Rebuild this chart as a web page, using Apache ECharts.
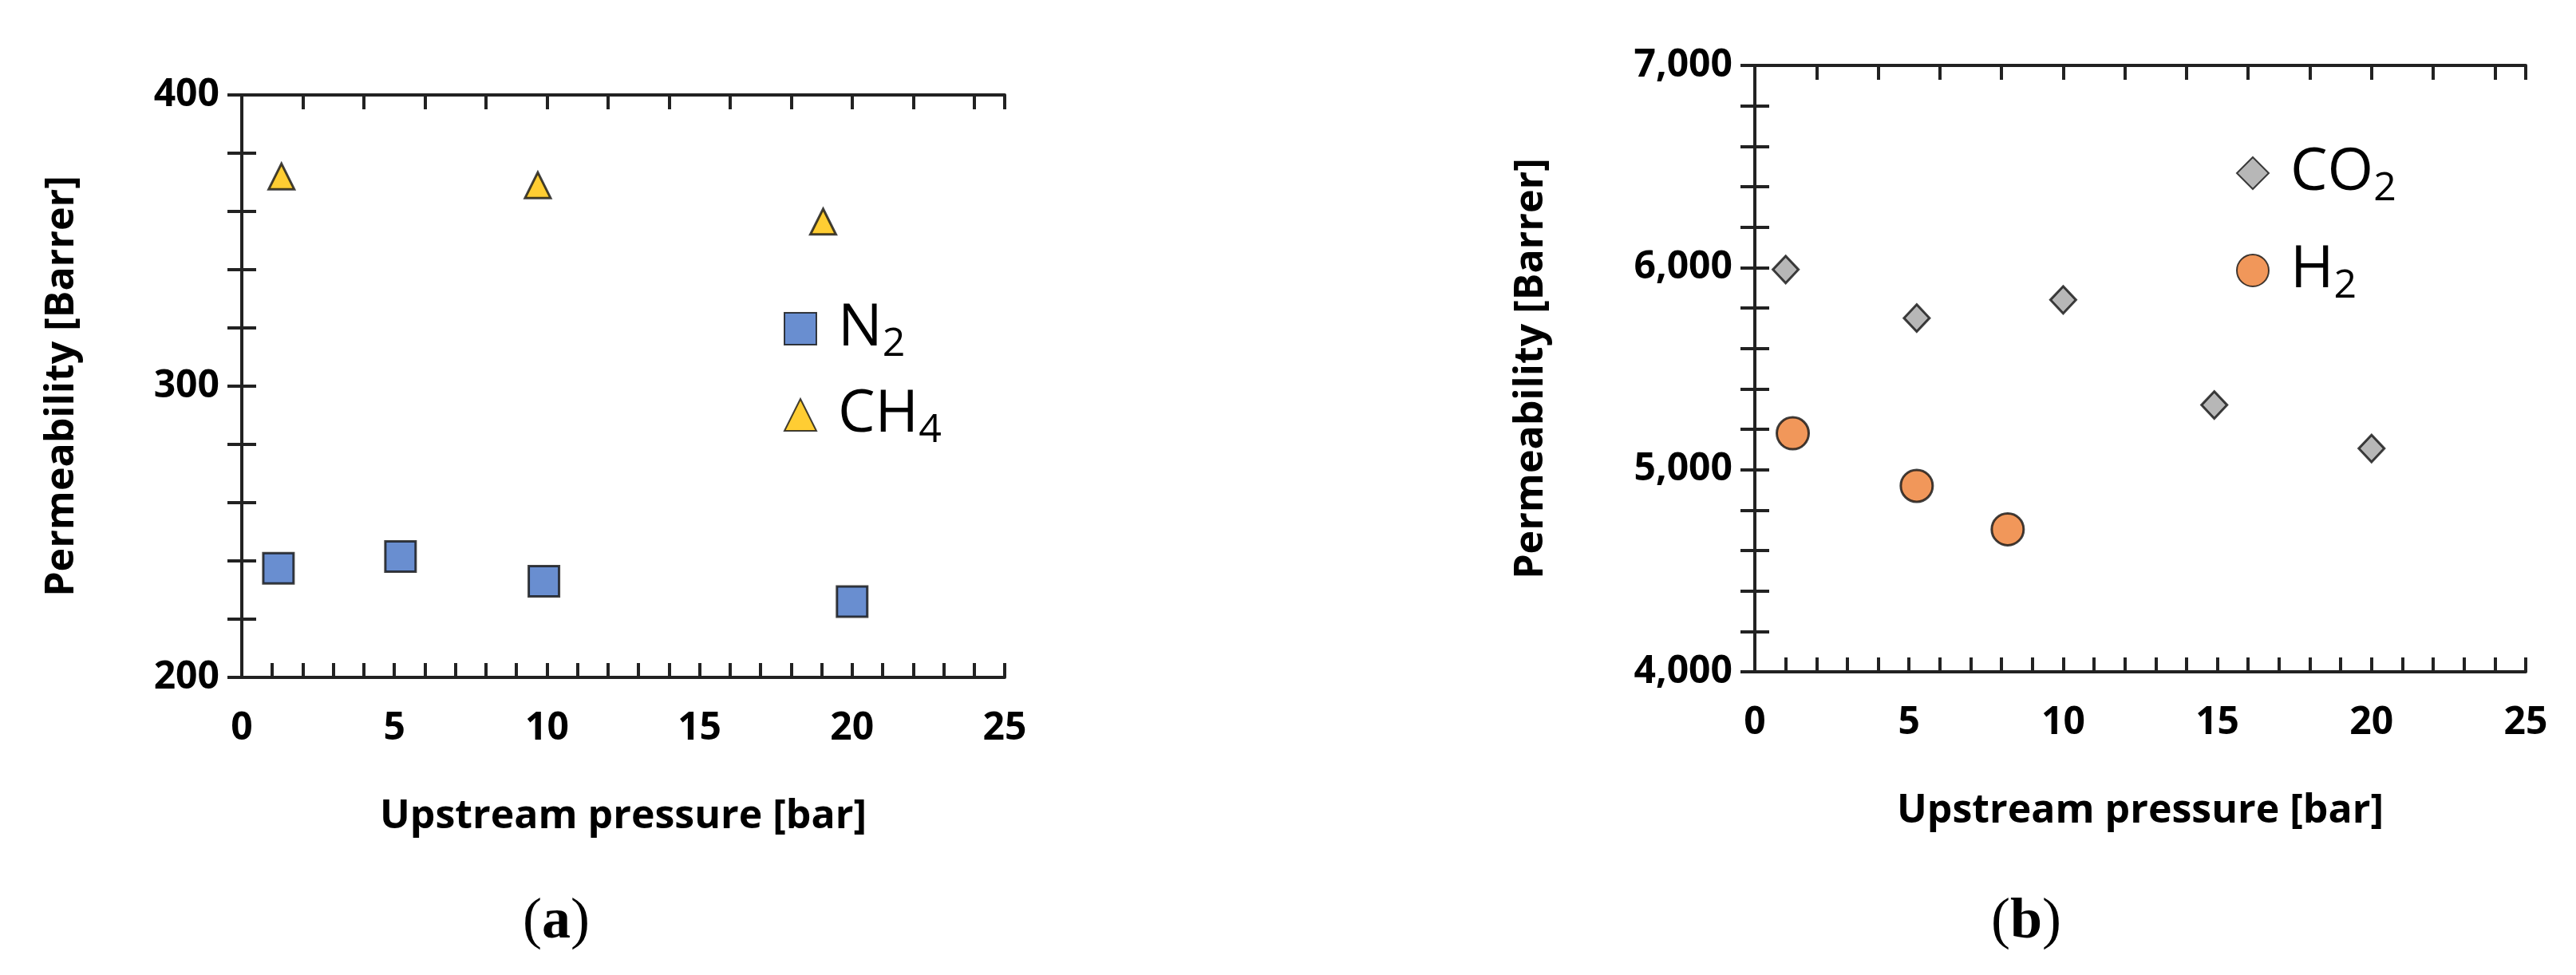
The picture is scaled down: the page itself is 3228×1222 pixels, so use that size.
<!DOCTYPE html>
<html><head><meta charset="utf-8">
<script src="https://cdn.jsdelivr.net/npm/echarts@6/dist/echarts.min.js"></script>
<style>html,body{margin:0;padding:0;background:#fff}#c{width:3228px;height:1222px}</style>
</head><body><div id="c"></div>
<script>
const n2X = [1.2, 5.2, 9.9, 20.0];
const n2Y = [237.5, 241.5, 233, 226];
const ch4X = [1.3, 9.7, 19.05];
const ch4Y = [372, 369, 356.5];
const co2X = [1.0, 5.25, 10.0, 14.9, 20.0];
const co2Y = [5990, 5750, 5840, 5320, 5105];
const h2X = [1.23, 5.25, 8.2];
const h2Y = [5180, 4920, 4705];
const xTicks = [0, 5, 10, 15, 20, 25];

const chart = echarts.init(document.getElementById('c'));
const F = 'Open Sans';
const lbl = {color:'#000', fontFamily:F, fontWeight:'bold', fontSize:48};
function zip(a,b){return a.map((v,i)=>[v,b[i]]);}
const axLine = {show:true, lineStyle:{color:'#222', width:4}};
const tk = {show:true, inside:true, length:18, lineStyle:{color:'#222', width:4}};
function xAxes(gi){
  return [
    {gridIndex:gi, type:'value', min:0, max:25, interval:1, position:'bottom',
     axisLine:axLine, axisTick:tk, splitLine:{show:false},
     axisLabel:Object.assign({margin:40, showMinLabel:true, showMaxLabel:true, formatter:v=>xTicks.includes(v)?String(v):''}, lbl),
     name:'Upstream pressure [bar]', nameLocation:'middle', nameGap:150,
     nameTextStyle:{color:'#000', fontFamily:F, fontWeight:'bold', fontSize:50}},
    {gridIndex:gi, type:'value', min:0, max:25, interval:2, position:'top',
     axisLine:axLine, axisTick:tk, axisLabel:{show:false}, splitLine:{show:false}}
  ];
}
function yAxes(gi,min,max,step,major,fmt){
  return [
    {gridIndex:gi, type:'value', min:min, max:max, interval:step, position:'left',
     axisLine:axLine, axisTick:tk, splitLine:{show:false},
     axisLabel:Object.assign({margin:28, formatter:v=>(Math.round(v-min)%major===0)?fmt(v):''}, lbl),
     name:'Permeability [Barrer]', nameLocation:'middle', nameGap:gi===0?200:255,
     nameTextStyle:{color:'#000', fontFamily:F, fontWeight:'bold', fontSize:50}},
    {gridIndex:gi, type:'value', min:min, max:max, interval:step, position:'right',
     axisLine:axLine, axisTick:tk, axisLabel:{show:false}, splitLine:{show:false}}
  ];
}
const bd = {borderColor:'#111', borderWidth:3};
const rich = {n:{fontSize:74, fontFamily:F, color:'#000', padding:[0,0,0,22]}, s:{fontSize:50, fontFamily:F, color:'#000', padding:[40,0,0,0]}};
function leg(name, txt, left, top){
  return {data:[name], orient:'vertical', left:left, top:top, itemWidth:40, itemHeight:40, itemGap:10,
    formatter:()=>txt, textStyle:{rich:rich}};
}
chart.setOption({
  animation:false,
  grid:[{left:303, top:119, width:956, height:730},{left:2199, top:82, width:966, height:760}],
  xAxis:[...xAxes(0), ...xAxes(1)],
  yAxis:[...yAxes(0,200,400,20,100,v=>String(v)), ...yAxes(1,4000,7000,200,1000,v=>v.toLocaleString('en-US'))],
  legend:[leg('N2','{n|N}{s|2}',977,370), leg('CH4','{n|CH}{s|4}',977,478),
          leg('CO2','{n|CO}{s|2}',2797,175), leg('H2','{n|H}{s|2}',2797,297)],
  series:[
    {name:'N2', type:'scatter', xAxisIndex:0, yAxisIndex:0, symbol:'rect', symbolSize:38, data:zip(n2X,n2Y), itemStyle:Object.assign({color:'#4472C4'},bd)},
    {name:'CH4', type:'scatter', xAxisIndex:0, yAxisIndex:0, symbol:'triangle', symbolSize:32, data:zip(ch4X,ch4Y), itemStyle:Object.assign({color:'#FFC000'},bd)},
    {name:'CO2', type:'scatter', xAxisIndex:2, yAxisIndex:2, symbol:'diamond', symbolSize:[32,34], data:zip(co2X,co2Y), itemStyle:Object.assign({color:'#A5A5A5'},bd)},
    {name:'H2', type:'scatter', xAxisIndex:2, yAxisIndex:2, symbol:'circle', symbolSize:40, data:zip(h2X,h2Y), itemStyle:Object.assign({color:'#ED7D31'},bd)}
  ],
  graphic:[
    {type:'text', left:655, top:1120, style:{text:'({b|a})', fontFamily:'Liberation Serif', fontSize:72, fill:'#000', rich:{b:{fontWeight:'bold',fontSize:72,fontFamily:'Liberation Serif',fill:'#000'}}}},
    {type:'text', left:2495, top:1120, style:{text:'({b|b})', fontFamily:'Liberation Serif', fontSize:72, fill:'#000', rich:{b:{fontWeight:'bold',fontSize:72,fontFamily:'Liberation Serif',fill:'#000'}}}}
  ]
});
</script></body></html>
